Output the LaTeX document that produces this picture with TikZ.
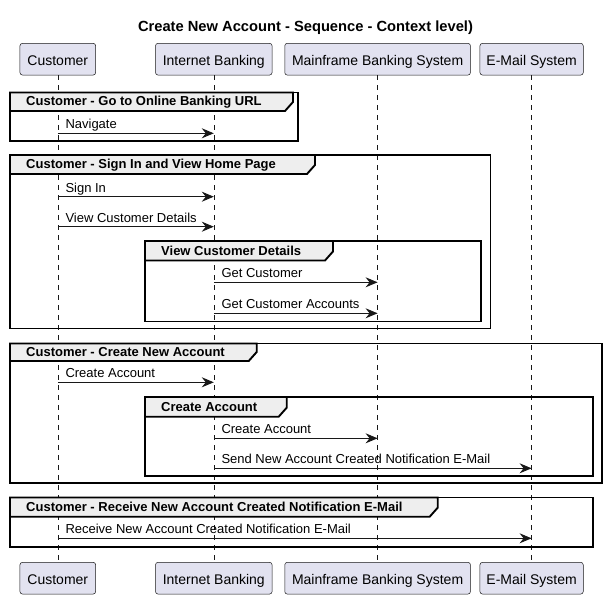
\documentclass[tikz,border=0pt]{standalone}
\usepackage{fontspec}
\setmainfont{Liberation Sans}
\usetikzlibrary{arrows.meta,calc}
\definecolor{partfill}{HTML}{E2E2F0}
\definecolor{partline}{HTML}{181818}
\definecolor{tabfill}{HTML}{EEEEEE}
\tikzset{
  part/.style={draw=partline,fill=partfill,line width=0.5pt,rounded corners=2.5pt,
    minimum height=31.7pt,inner sep=0pt,text height=12.6pt,text depth=0pt,
    font=\fontsize{14}{16}\selectfont},
  lifeline/.style={draw=partline,line width=0.5pt,dash pattern=on 5pt off 5pt},
  msg/.style={draw=partline,line width=1pt,-{Stealth[length=12pt,width=10pt,inset=4pt]}},
  msglabel/.style={anchor=base west,inner sep=0pt,font=\fontsize{13}{15}\selectfont},
  frameline/.style={draw=black,line width=1.9pt},
  tabshape/.style={draw=black,line width=1.9pt,fill=tabfill},
  hdr/.style={anchor=base west,inner sep=0pt,font=\bfseries\fontsize{13}{15}\selectfont},
  titlestyle/.style={inner sep=0pt,anchor=base,font=\bfseries\fontsize{14.7}{17}\selectfont}
}
% \grp{L}{T}{R}{B}{tabR}{tabB}{name}{text}
\newcommand{\grp}[8]{%
  \draw[frameline] (#1,#2) rectangle (#3,#4);
  \draw[tabshape] (#1,#2) -- (#5,#2) -- (#5,#6-9) -- (#5-8,#6) -- (#1,#6) -- cycle;
  \node[hdr] (#7) at (#1+16,#6-5) {#8};
}
\begin{document}
\begin{tikzpicture}[x=1pt,y=-1pt]
\useasboundingbox (0,0) rectangle (608,599);
\fill[white] (0,0) rectangle (608,599);

\node[titlestyle] (title) at (305.5,31.5) {Create New Account - Sequence - Context level)};

% participants
\node[part,minimum width=75.7pt] (custT) at (57.8,59.2) {Customer};
\node[part,minimum width=116.6pt] (ibT) at (213.8,59.2) {Internet Banking};
\node[part,minimum width=185.7pt] (mfT) at (377.6,59.2) {Mainframe Banking System};
\node[part,minimum width=103.3pt] (emT) at (531.6,59.2) {E-Mail System};
\node[part,minimum width=75.7pt] (custB) at (57.8,578.2) {Customer};
\node[part,minimum width=116.6pt] (ibB) at (213.8,578.2) {Internet Banking};
\node[part,minimum width=185.7pt] (mfB) at (377.6,578.2) {Mainframe Banking System};
\node[part,minimum width=103.3pt] (emB) at (531.6,578.2) {E-Mail System};

\draw[lifeline] (custT) -- (custB);
\draw[lifeline] (ibT) -- (ibB);
\draw[lifeline] (mfT) -- (mfB);
\draw[lifeline] (emT) -- (emB);

% groups
\grp{10}{92.5}{298}{141}{293}{111}{g1}{Customer - Go to Online Banking URL}
\grp{10}{155}{490.5}{328.5}{315}{174}{g2}{Customer - Sign In and View Home Page}
\grp{145}{241}{481}{321.5}{333}{260.5}{g2a}{View Customer Details}
\grp{10}{343.5}{602}{483.3}{256.7}{361}{g3}{Customer - Create New Account}
\grp{145}{397}{593.3}{476}{286.7}{416.7}{g3a}{Create Account}
\grp{10}{497.5}{593.3}{546.7}{437.7}{516.7}{g4}{Customer - Receive New Account Created Notification E-Mail}

% messages
\draw[msg] (custT.south |- 0,133.3) -- (ibT.south |- 0,133.3);
\node[msglabel] (m1) at ($(custT.south |- 0,133.3)+(7.5,-4.5)$) {Navigate};

\draw[msg] (custT.south |- 0,196.7) -- (ibT.south |- 0,196.7);
\node[msglabel] (m2) at ($(custT.south |- 0,196.7)+(7.5,-4.5)$) {Sign In};

\draw[msg] (custT.south |- 0,226.7) -- (ibT.south |- 0,226.7);
\node[msglabel] (m3) at ($(custT.south |- 0,226.7)+(7.5,-4.5)$) {View Customer Details};

\draw[msg] (ibT.south |- 0,282.3) -- (mfT.south |- 0,282.3);
\node[msglabel] (m4) at ($(ibT.south |- 0,282.3)+(7.5,-4.5)$) {Get Customer};

\draw[msg] (ibT.south |- 0,313.3) -- (mfT.south |- 0,313.3);
\node[msglabel] (m5) at ($(ibT.south |- 0,313.3)+(7.5,-4.5)$) {Get Customer Accounts};

\draw[msg] (custT.south |- 0,382.3) -- (ibT.south |- 0,382.3);
\node[msglabel] (m6) at ($(custT.south |- 0,382.3)+(7.5,-4.5)$) {Create Account};

\draw[msg] (ibT.south |- 0,438.3) -- (mfT.south |- 0,438.3);
\node[msglabel] (m7) at ($(ibT.south |- 0,438.3)+(7.5,-4.5)$) {Create Account};

\draw[msg] (ibT.south |- 0,468.3) -- (emT.south |- 0,468.3);
\node[msglabel] (m8) at ($(ibT.south |- 0,468.3)+(7.5,-4.5)$) {Send New Account Created Notification E-Mail};

\draw[msg] (custT.south |- 0,538.3) -- (emT.south |- 0,538.3);
\node[msglabel] (m9) at ($(custT.south |- 0,538.3)+(7.5,-4.5)$) {Receive New Account Created Notification E-Mail};
\end{tikzpicture}
\end{document}
